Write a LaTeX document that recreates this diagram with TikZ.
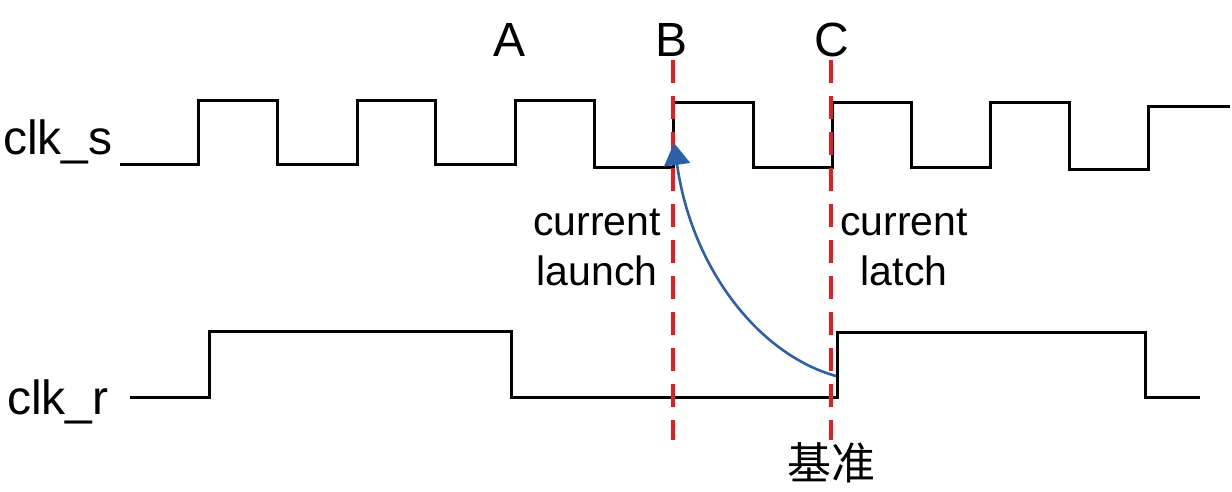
\documentclass[tikz,border=0pt]{standalone}
\usepackage{fontspec}
\setmainfont{Liberation Sans}
\newfontfamily\cjk{Noto Sans CJK SC}
\usepackage{tikz}
\usetikzlibrary{arrows.meta}
\definecolor{edgered}{RGB}{230,30,35}
\definecolor{arcblue}{RGB}{46,95,170}

\begin{document}
\begin{tikzpicture}[x=0.5pt,y=-0.5pt,
    wave/.style={black,line width=1.5pt},
    marker/.style={edgered,line width=1.6pt,dash pattern=on 11.5pt off 6.5pt},
    biglbl/.style={font=\fontsize{24}{28}\selectfont,inner sep=0pt},
    smalllbl/.style={font=\fontsize{20.5}{25}\selectfont,align=center,inner sep=0pt}]
  \useasboundingbox (0,0) rectangle (1232,492);

  % signal names
  \node[biglbl] (clks) at (58,142) {clk\_s};
  \node[biglbl] (clkr) at (58,402) {clk\_r};

  % edge names
  \node[biglbl] (edgeA) at (510,40) {A};
  \node[biglbl] (edgeB) at (672,40) {B};
  \node[biglbl] (edgeC) at (832,40) {C};

  % clk_s waveform
  \draw[wave] (120,165)--(198,165)--(198,101)--(277,101)--(277,165)
    --(357,165)--(357,101)--(435,101)--(435,165)--(515,165)--(515,101)
    --(594,101)--(594,168)--(673,168)--(673,103)--(753,103)--(753,168)
    --(832,168)--(832,103)--(911,103)--(911,168)--(990,168)--(990,103)
    --(1069,103)--(1069,170)--(1148,170)--(1148,107)--(1230,107);

  % clk_r waveform
  \draw[wave] (130,397)--(209,397)--(209,331)--(511,331)--(511,397)
    --(837,397)--(837,332)--(1145,332)--(1145,397)--(1200,397);

  % reference edges
  \draw[marker] (673,60)--(673,440);
  \draw[marker] (831,60)--(831,440);

  \node[smalllbl] (launch) at (597,247) {current\\launch};
  \node[smalllbl] (latch) at (904,247) {current\\latch};
  \node[font=\cjk\fontsize{22}{26}\selectfont,inner sep=0pt] (ref) at (831,463) {基准};

  % launch-to-latch arc
  \coordinate (latchpt) at (836,376);
  \coordinate (launchpt) at (674,143);
  \draw[arcblue,line width=1.3pt,-{Triangle[length=11pt,width=13pt]}]
    (latchpt) .. controls (760,355) and (692,270) .. (launchpt);
\end{tikzpicture}
\end{document}
